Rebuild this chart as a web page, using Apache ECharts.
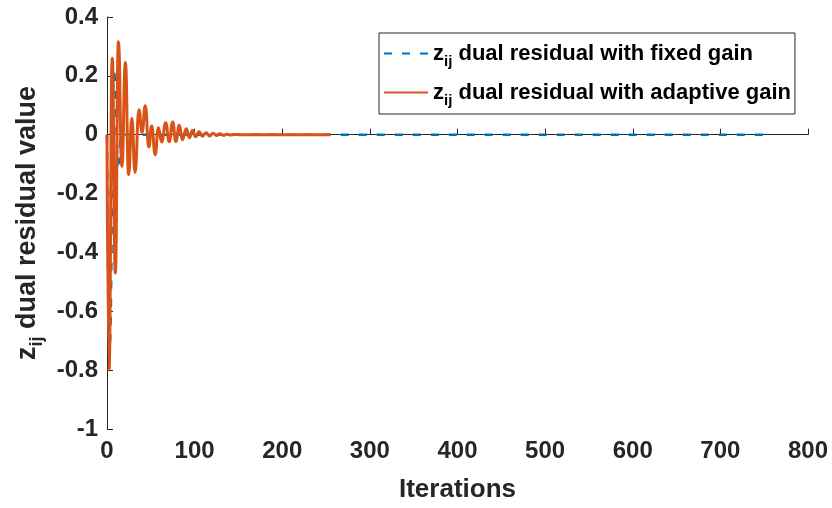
<!DOCTYPE html>
<html>
<head>
<meta charset="utf-8">
<script src="https://cdn.jsdelivr.net/npm/echarts@6/dist/echarts.min.js"></script>
<style>
  html, body { margin: 0; padding: 0; background: #fff; }
  #main { width: 832px; height: 508px; }
</style>
</head>
<body>
<div id="main"></div>
<script>
// 固定增益 (fixed gain), mostly hidden under the orange curve
var fixedIter = [0, 3, 8, 13, 17, 22, 750];
var fixedVal = [0, -0.72, 0.21, -0.1, 0.04, 0, 0];

// 自适应增益 (adaptive gain) - peaks / troughs
var adaptiveIter = [0, 2.3, 6, 9.5, 13, 17, 21, 24.7, 28.3, 32, 36.5, 40, 43.7, 47.7, 51, 55, 58.6, 62.4,
    67, 71, 75, 78.5, 82.5, 86, 90.5, 94, 97.5, 101, 105, 109, 113, 117, 121, 125, 129, 133, 137, 141, 145, 150, 255];
var adaptiveVal = [0, -0.80, 0.26, -0.47, 0.316, -0.108, 0.245, -0.136, 0.056, -0.128, 0.085, 0.008, 0.098, -0.042, 0.03, -0.068, 0.024, -0.025,
    0.041, -0.024, 0.043, -0.023, 0.032, -0.017, 0.02, -0.01, 0.014, -0.007, 0.01, -0.005, 0.007, -0.004, 0.005, -0.003, 0.003, -0.002, 0.002, -0.001, 0.001, 0, 0];

var seriesNames = ['fixed gain', 'adaptive gain'];

function pairs(xs, ys) {
    var out = [];
    for (var i = 0; i < xs.length; i++) out.push([xs[i], ys[i]]);
    return out;
}

var txt = '#262626';
var font = '"Liberation Sans", Arial, Helvetica, sans-serif';

var myChart = echarts.init(document.getElementById('main'));

var option = {
    backgroundColor: '#fff',
    animation: false,
    grid: { left: 107, right: 24, top: 17, bottom: 79 },
    legend: {
        orient: 'vertical',
        left: 379,
        top: 33,
        data: seriesNames,
        itemWidth: 44,
        itemHeight: 14,
        itemGap: 8,
        padding: [5, 4, 6, 4],
        borderColor: txt,
        borderWidth: 1,
        itemStyle: { opacity: 0 },
        formatter: function (name) {
            return '{b|z}{s|ij}{b| dual residual with ' + name + '}';
        },
        textStyle: {
            color: '#000',
            rich: {
                b: { fontSize: 22, fontWeight: 'bold', fontFamily: font, color: '#000', lineHeight: 30 },
                s: { fontSize: 15, fontWeight: 'bold', fontFamily: font, color: '#000', lineHeight: 30, padding: [16, 0, 0, 0] }
            }
        }
    },
    xAxis: {
        type: 'value',
        min: 0,
        max: 800,
        interval: 100,
        name: 'Iterations',
        nameLocation: 'middle',
        nameGap: 48,
        nameTextStyle: { fontSize: 26, fontWeight: 'bold', fontFamily: font, color: txt },
        axisLine: { lineStyle: { color: txt, width: 1 } },
        axisTick: { inside: true, length: 6, lineStyle: { color: txt } },
        axisLabel: { fontSize: 24, fontWeight: 'bold', fontFamily: font, color: txt, margin: 10 },
        splitLine: { show: false }
    },
    yAxis: {
        type: 'value',
        min: -1,
        max: 0.4,
        interval: 0.2,
        name: '{b|z}{s|ij}{b| dual residual value}',
        nameLocation: 'middle',
        nameGap: 62,
        nameTextStyle: {
            color: txt,
            rich: {
                b: { fontSize: 27, fontWeight: 'bold', fontFamily: font, color: txt, lineHeight: 34 },
                s: { fontSize: 18, fontWeight: 'bold', fontFamily: font, color: txt, lineHeight: 34, padding: [18, 0, 0, 0] }
            }
        },
        axisLine: { show: true, lineStyle: { color: txt, width: 1 } },
        axisTick: { show: true, inside: true, length: 6, lineStyle: { color: txt } },
        axisLabel: {
            fontSize: 24, fontWeight: 'bold', fontFamily: font, color: txt, margin: 9,
            formatter: function (v) { return String(Math.round(v * 10) / 10); }
        },
        splitLine: { show: false }
    },
    series: [
        {
            name: seriesNames[0],
            type: 'line',
            symbol: 'none',
            smooth: 0.5,
            smoothMonotone: 'x',
            lineStyle: { color: '#0072BD', width: 2.5, type: [8, 10] },
            itemStyle: { color: '#0072BD' },
            data: pairs(fixedIter, fixedVal)
        },
        {
            name: seriesNames[1],
            type: 'line',
            symbol: 'none',
            smooth: 0.5,
            smoothMonotone: 'x',
            lineStyle: { color: '#D95319', width: 3 },
            itemStyle: { color: '#D95319' },
            data: pairs(adaptiveIter, adaptiveVal)
        }
    ]
};

myChart.setOption(option);
window.addEventListener("resize", function () {
    myChart.resize();
});
</script>
</body>
</html>
